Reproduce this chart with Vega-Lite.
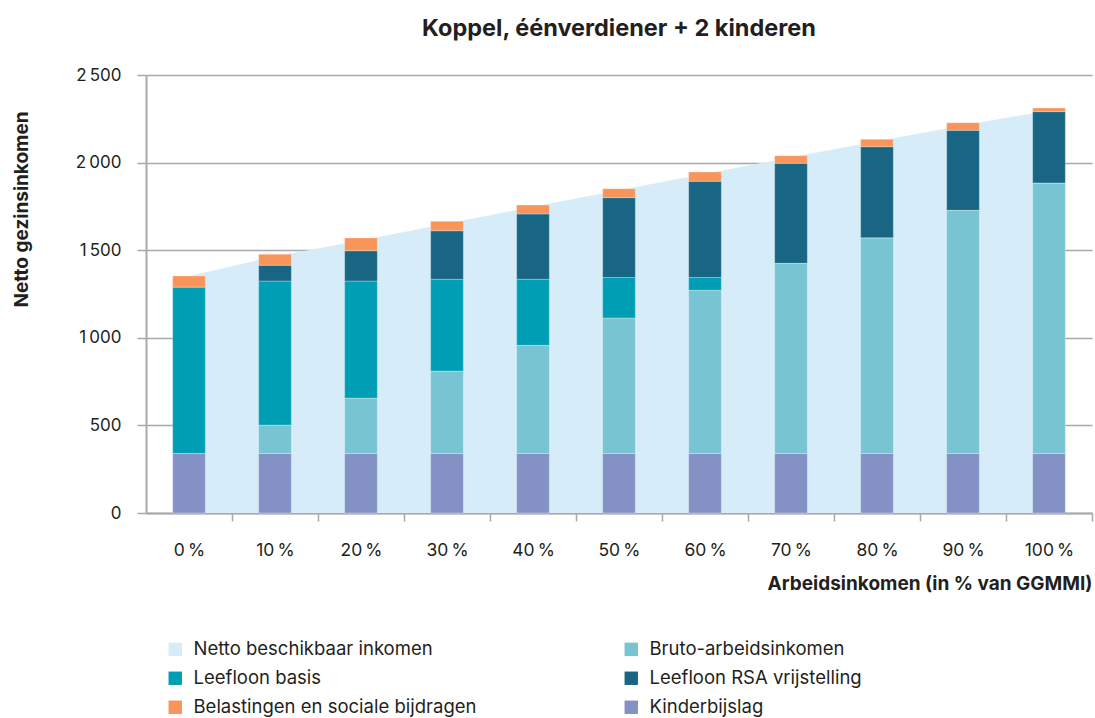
{
  "$schema": "https://vega.github.io/schema/vega-lite/v6.json",
  "autosize": "none",
  "width": 946,
  "height": 438,
  "padding": {"left": 146, "top": 75, "right": 3, "bottom": 205},
  "config": {
    "font": "Inter",
    "view": {"stroke": null},
    "axis": {"labelFont": "Inter", "titleFont": "Inter", "labelColor": "#231f20", "titleColor": "#231f20"},
    "legend": {"labelFont": "Inter"}
  },
  "title": {
    "text": "Koppel, éénverdiener + 2 kinderen",
    "anchor": "middle",
    "font": "Inter",
    "fontSize": 23.5,
    "fontWeight": "bold",
    "color": "#231f20",
    "offset": 26
  },
  "datasets": {
    "netto": [
      {"x": "0 %", "cat": "Netto beschikbaar inkomen", "v": 1353},
      {"x": "10 %", "cat": "Netto beschikbaar inkomen", "v": 1465},
      {"x": "20 %", "cat": "Netto beschikbaar inkomen", "v": 1556},
      {"x": "30 %", "cat": "Netto beschikbaar inkomen", "v": 1652},
      {"x": "40 %", "cat": "Netto beschikbaar inkomen", "v": 1748},
      {"x": "50 %", "cat": "Netto beschikbaar inkomen", "v": 1842},
      {"x": "60 %", "cat": "Netto beschikbaar inkomen", "v": 1936},
      {"x": "70 %", "cat": "Netto beschikbaar inkomen", "v": 2030},
      {"x": "80 %", "cat": "Netto beschikbaar inkomen", "v": 2122},
      {"x": "90 %", "cat": "Netto beschikbaar inkomen", "v": 2212},
      {"x": "100 %", "cat": "Netto beschikbaar inkomen", "v": 2298}
    ],
    "bars": [
      {"x": "0 %", "cat": "Kinderbijslag", "stapel": 1, "v": 340},
      {"x": "0 %", "cat": "Bruto-arbeidsinkomen", "stapel": 2, "v": 0},
      {"x": "0 %", "cat": "Leefloon basis", "stapel": 3, "v": 950},
      {"x": "0 %", "cat": "Leefloon RSA vrijstelling", "stapel": 4, "v": 0},
      {"x": "0 %", "cat": "Belastingen en sociale bijdragen", "stapel": 5, "v": 63},
      {"x": "10 %", "cat": "Kinderbijslag", "stapel": 1, "v": 340},
      {"x": "10 %", "cat": "Bruto-arbeidsinkomen", "stapel": 2, "v": 162},
      {"x": "10 %", "cat": "Leefloon basis", "stapel": 3, "v": 822},
      {"x": "10 %", "cat": "Leefloon RSA vrijstelling", "stapel": 4, "v": 90},
      {"x": "10 %", "cat": "Belastingen en sociale bijdragen", "stapel": 5, "v": 63},
      {"x": "20 %", "cat": "Kinderbijslag", "stapel": 1, "v": 340},
      {"x": "20 %", "cat": "Bruto-arbeidsinkomen", "stapel": 2, "v": 316},
      {"x": "20 %", "cat": "Leefloon basis", "stapel": 3, "v": 668},
      {"x": "20 %", "cat": "Leefloon RSA vrijstelling", "stapel": 4, "v": 173},
      {"x": "20 %", "cat": "Belastingen en sociale bijdragen", "stapel": 5, "v": 73},
      {"x": "30 %", "cat": "Kinderbijslag", "stapel": 1, "v": 340},
      {"x": "30 %", "cat": "Bruto-arbeidsinkomen", "stapel": 2, "v": 470},
      {"x": "30 %", "cat": "Leefloon basis", "stapel": 3, "v": 524},
      {"x": "30 %", "cat": "Leefloon RSA vrijstelling", "stapel": 4, "v": 277},
      {"x": "30 %", "cat": "Belastingen en sociale bijdragen", "stapel": 5, "v": 54},
      {"x": "40 %", "cat": "Kinderbijslag", "stapel": 1, "v": 340},
      {"x": "40 %", "cat": "Bruto-arbeidsinkomen", "stapel": 2, "v": 617},
      {"x": "40 %", "cat": "Leefloon basis", "stapel": 3, "v": 377},
      {"x": "40 %", "cat": "Leefloon RSA vrijstelling", "stapel": 4, "v": 373},
      {"x": "40 %", "cat": "Belastingen en sociale bijdragen", "stapel": 5, "v": 51},
      {"x": "50 %", "cat": "Kinderbijslag", "stapel": 1, "v": 340},
      {"x": "50 %", "cat": "Bruto-arbeidsinkomen", "stapel": 2, "v": 773},
      {"x": "50 %", "cat": "Leefloon basis", "stapel": 3, "v": 231},
      {"x": "50 %", "cat": "Leefloon RSA vrijstelling", "stapel": 4, "v": 456},
      {"x": "50 %", "cat": "Belastingen en sociale bijdragen", "stapel": 5, "v": 51},
      {"x": "60 %", "cat": "Kinderbijslag", "stapel": 1, "v": 340},
      {"x": "60 %", "cat": "Bruto-arbeidsinkomen", "stapel": 2, "v": 931},
      {"x": "60 %", "cat": "Leefloon basis", "stapel": 3, "v": 73},
      {"x": "60 %", "cat": "Leefloon RSA vrijstelling", "stapel": 4, "v": 549},
      {"x": "60 %", "cat": "Belastingen en sociale bijdragen", "stapel": 5, "v": 53},
      {"x": "70 %", "cat": "Kinderbijslag", "stapel": 1, "v": 340},
      {"x": "70 %", "cat": "Bruto-arbeidsinkomen", "stapel": 2, "v": 1085},
      {"x": "70 %", "cat": "Leefloon basis", "stapel": 3, "v": 0},
      {"x": "70 %", "cat": "Leefloon RSA vrijstelling", "stapel": 4, "v": 571},
      {"x": "70 %", "cat": "Belastingen en sociale bijdragen", "stapel": 5, "v": 43},
      {"x": "80 %", "cat": "Kinderbijslag", "stapel": 1, "v": 340},
      {"x": "80 %", "cat": "Bruto-arbeidsinkomen", "stapel": 2, "v": 1231},
      {"x": "80 %", "cat": "Leefloon basis", "stapel": 3, "v": 0},
      {"x": "80 %", "cat": "Leefloon RSA vrijstelling", "stapel": 4, "v": 520},
      {"x": "80 %", "cat": "Belastingen en sociale bijdragen", "stapel": 5, "v": 42},
      {"x": "90 %", "cat": "Kinderbijslag", "stapel": 1, "v": 340},
      {"x": "90 %", "cat": "Bruto-arbeidsinkomen", "stapel": 2, "v": 1388},
      {"x": "90 %", "cat": "Leefloon basis", "stapel": 3, "v": 0},
      {"x": "90 %", "cat": "Leefloon RSA vrijstelling", "stapel": 4, "v": 456},
      {"x": "90 %", "cat": "Belastingen en sociale bijdragen", "stapel": 5, "v": 44},
      {"x": "100 %", "cat": "Kinderbijslag", "stapel": 1, "v": 340},
      {"x": "100 %", "cat": "Bruto-arbeidsinkomen", "stapel": 2, "v": 1544},
      {"x": "100 %", "cat": "Leefloon basis", "stapel": 3, "v": 0},
      {"x": "100 %", "cat": "Leefloon RSA vrijstelling", "stapel": 4, "v": 407},
      {"x": "100 %", "cat": "Belastingen en sociale bijdragen", "stapel": 5, "v": 21}
    ]
  },
  "resolve": {"scale": {"x": "independent"}, "axis": {"x": "independent"}},
  "encoding": {
    "y": {
      "type": "quantitative",
      "scale": {"domain": [0, 2500]},
      "axis": {
        "title": "Netto gezinsinkomen",
        "titleFontSize": 19,
        "titleFontWeight": "bold",
        "titleAngle": 270,
        "titleX": -125,
        "titleY": 134,
        "titleAlign": "center",
        "titleBaseline": "middle",
        "values": [0, 500, 1000, 1500, 2000, 2500],
        "labelFontSize": 17,
        "labelPadding": 16,
        "labelExpr": "replace(format(datum.value, ','), ',', '\u2009')",
        "tickSize": 9,
        "tickColor": "#a7a9ac",
        "tickWidth": 1.5,
        "domainColor": "#a7a9ac",
        "domainWidth": 2,
        "grid": true,
        "gridColor": "#a7a9ac",
        "gridWidth": 1.5
      }
    },
    "color": {
      "field": "cat",
      "type": "nominal",
      "scale": {
        "domain": ["Netto beschikbaar inkomen", "Leefloon basis", "Belastingen en sociale bijdragen", "Bruto-arbeidsinkomen", "Leefloon RSA vrijstelling", "Kinderbijslag"],
        "range": ["#d6ecf9", "#009eb4", "#f7955b", "#79c4d2", "#186684", "#8491c5"]
      },
      "legend": {
        "title": null,
        "orient": "none",
        "legendX": 20,
        "legendY": 565,
        "columns": 2,
        "columnPadding": 145,
        "rowPadding": 10,
        "symbolType": "square",
        "symbolSize": 180,
        "symbolStrokeWidth": 0,
        "labelFontSize": 18.5,
        "labelColor": "#231f20",
        "labelOffset": 9,
        "labelLimit": 400,
        "padding": 0
      }
    }
  },
  "layer": [
    {
      "data": {"name": "netto"},
      "mark": {"type": "area", "opacity": 1},
      "encoding": {
        "x": {"field": "x", "type": "nominal",
          "sort": ["0 %", "10 %", "20 %", "30 %", "40 %", "50 %", "60 %", "70 %", "80 %", "90 %", "100 %"],
          "scale": {"type": "point", "padding": 0.5},
          "axis": null},
        "y": {"field": "v", "type": "quantitative", "stack": null}
      }
    },
    {
      "data": {"name": "bars"},
      "mark": {"type": "bar", "stroke": "#ffffff", "strokeOpacity": 0.35, "strokeWidth": 0.8},
      "encoding": {
        "x": {
          "field": "x",
          "type": "nominal",
          "sort": ["0 %", "10 %", "20 %", "30 %", "40 %", "50 %", "60 %", "70 %", "80 %", "90 %", "100 %"],
          "scale": {"paddingInner": 0.62, "paddingOuter": 0.31},
          "axis": {
            "title": "Arbeidsinkomen (in % van GGMMI)",
            "titleFontSize": 19,
            "titleFontWeight": "bold",
            "titleAnchor": "end",
            "titleAlign": "right",
            "titleX": 946,
            "titleY": 70,
            "titleBaseline": "middle",
            "labelAngle": 0,
            "labelFontSize": 17.5,
            "labelPadding": 20,
            "labelExpr": "replace(datum.label, ' ', '\u2009')",
            "bandPosition": 1,
            "tickExtra": false,
            "tickOffset": 26.7,
            "labelOffset": -26.7,
            "tickSize": 8,
            "tickColor": "#a7a9ac",
            "tickWidth": 1.5,
            "domainColor": "#a7a9ac",
            "domainWidth": 2,
            "grid": false
          }
        },
        "y": {"field": "v", "type": "quantitative", "stack": "zero"},
        "order": {"field": "stapel", "type": "quantitative"}
      }
    }
  ]
}
